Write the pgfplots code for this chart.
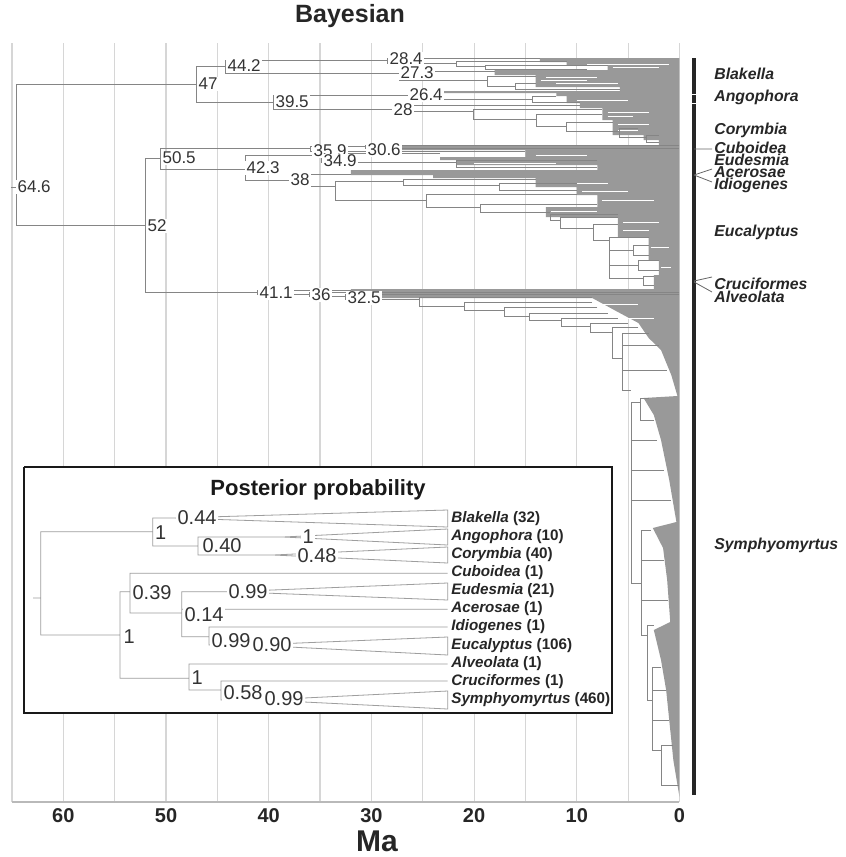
\documentclass[border=0pt]{standalone}
\usepackage{fontspec}
\setmainfont{Liberation Sans}
\usepackage{pgfplots}
\pgfplotsset{compat=1.18}
\definecolor{tree}{gray}{0.52}
\definecolor{dense}{gray}{0.6}
\definecolor{gridc}{gray}{0.84}
\definecolor{lab}{gray}{0.2}
\definecolor{itree}{gray}{0.62}
\tikzset{
 nl/.style={anchor=west, font=\fontsize{8.5}{9}\selectfont, text=lab, fill=white, inner sep=0.6pt},
 il/.style={anchor=west, font=\fontsize{10}{11}\selectfont, text=lab, fill=white, inner sep=0.6pt},
 cl/.style={anchor=west, font=\fontsize{7.9}{9}\selectfont\bfseries\itshape, text=black!85, inner sep=0pt},
 tl/.style={anchor=west, font=\fontsize{7.6}{9}\selectfont\bfseries, text=black!85, inner sep=0pt},
}
\begin{document}
\begin{tikzpicture}
\useasboundingbox (-6pt,-27.65pt) rectangle (417pt,400.85pt);
\begin{axis}[at={(0,0)}, anchor=south west, scale only axis,
 width=333.75pt, height=379.35pt,
 xmin=0, xmax=65, x dir=reverse, ymin=43, ymax=801.7, y dir=reverse,
 axis line style={draw=none}, ytick=\empty,
 xtick={0,10,...,60}, minor xtick={5,15,...,65},
 xmajorgrids, xminorgrids,
 grid style={gridc, line width=0.6pt}, minor grid style={gridc, line width=0.6pt},
 major tick length=0pt, minor tick length=0pt,
 xticklabel pos=lower,
 xticklabel style={font=\fontsize{10}{12}\selectfont\bfseries, text=black!85},
 /pgf/number format/assume math mode=true,
 clip=false, unbounded coords=jump]
% dense tip region
\addplot[draw=none, fill=dense] coordinates {
(0,58) (13.6,58) (13.6,62) (11,62) (11,65) (7,65) (7,70) (18,70) (18,75) (14,75) (14,87) (5.8,87) (5.8,91) (23.3,91) (23.3,93) (12,93) (12,96) (11,96) (11,103) (9.7,103) (9.7,108) (7.5,108) (7.5,120) (6.5,120) (6.5,135) (3.5,135) (3.5,140) (2,140) (2,145) (30.4,145) (30.4,150) (15,150) (15,157) (23.3,157) (23.3,160) (21.7,160) (21.7,165) (8,165) (8,170) (32,170) (32,175) (24,175) (24,178) (14,178) (14,187) (10,187) (10,195) (8,195) (8,207) (13,207) (13,217) (6,217) (6,237) (3,237) (3,260) (2,260) (2,275) (2.5,275) (2.5,289) (32,289) (32,298) (8.5,298) (6,312) (4,323) (3,338) (1.8,350) (0.8,375) (0.2,396) (3.5,398) (2.5,415) (1.8,440) (1.0,480) (0.3,522) (2.6,528) (1.6,548) (1.2,580) (0.9,622) (2.5,630) (1.8,660) (1.3,690) (1.0,720) (0.6,760) (0,797)
};
% white streaks inside the dense region
\addplot[white, line width=0.5pt] coordinates {
(9,64) (1,64) (nan,nan) (6.5,67.5) (2,67.5) (nan,nan) (13,77) (8,77) (nan,nan) (13.5,80) (9,80) (nan,nan) (12,83) (6,83) (nan,nan)
(10,100) (5,100) (nan,nan) (7,112) (3,112) (nan,nan) (7,116) (4.5,116) (nan,nan) (6,124) (3,124) (nan,nan) (6,130) (4,130) (nan,nan)
(14,155) (9,155) (nan,nan) (20,163) (12,163) (nan,nan) (13,183) (7,183) (nan,nan) (9.5,191) (5,191) (nan,nan) (7.5,200) (2.5,200) (nan,nan)
(12.5,211) (8,211) (nan,nan) (5.5,222) (2,222) (nan,nan) (5.5,230) (3,230) (nan,nan) (2.8,247) (1,247) (nan,nan) (1.8,267) (0.8,267) (nan,nan)
(8,304) (4,304) (nan,nan) (5.5,318) (2.5,318)
};
% x axis line
\addplot[gray!55, line width=0.8pt] coordinates {(65,801.7) (0,801.7)};
% tree branches
\addplot[tree, line width=0.45pt] coordinates {
(65.1,187) (64.6,187) (nan,nan)
(47,84) (64.6,84) (64.6,225) (52,225) (nan,nan)
(44.2,66) (47,66) (47,102) (39.5,102) (nan,nan)
(28.4,60) (44.2,60) (44.2,73) (27.3,73) (nan,nan)
(26.4,95) (39.5,95) (39.5,109) (28,109) (nan,nan)
(50.5,158.7) (52,158.7) (52,292.3) (41.1,292.3) (nan,nan)
(35.9,148) (50.5,148) (50.5,169) (42.3,169) (nan,nan)
(34.9,155) (42.3,155) (42.3,180) (38,180) (nan,nan)
(30.6,146) (35.9,146) (35.9,151) (15,151) (nan,nan)
(0,145) (30.6,145) (30.6,148) (0,148) (nan,nan)
(23.3,153) (34.9,153) (34.9,162) (21.7,162) (nan,nan)
(8,160) (21.7,160) (21.7,167) (8,167) (nan,nan)
(32,174) (38,174) (38,186) (33.5,186) (nan,nan)
(26.9,181) (33.5,181) (33.5,200) (24.6,200) (nan,nan)
(14,179) (26.9,179) (26.9,185) (17.5,185) (nan,nan)
(10,183) (17.5,183) (17.5,190) (10,190) (nan,nan)
(10,194) (24.6,194) (24.6,207) (19.4,207) (nan,nan)
(8,204) (19.4,204) (19.4,212) (12.6,212) (nan,nan)
(6,214) (12.6,214) (12.6,220) (11.6,220) (nan,nan)
(6,217) (11.6,217) (11.6,228) (8.4,228) (nan,nan)
(6,224) (8.4,224) (8.4,240) (6.8,240) (nan,nan)
(3,237) (6.8,237) (6.8,278) (3.5,278) (nan,nan)
(6.8,250) (4.5,250) (nan,nan) (6.8,265) (4.0,265) (nan,nan)
(3,245) (4.5,245) (4.5,255) (3,255) (nan,nan)
(2,260) (4.0,260) (4.0,270) (2,270) (nan,nan)
(2.5,276) (3.5,276) (3.5,285) (2.5,285) (nan,nan)
(13.6,58) (28.4,58) (28.4,63) (21.7,63) (nan,nan)
(11,61) (21.7,61) (21.7,66) (18.9,66) (nan,nan)
(7,65) (18.9,65) (18.9,69) (9,69) (nan,nan)
(18,71) (27.3,71) (27.3,80) (18.7,80) (nan,nan)
(14,76) (18.7,76) (18.7,86) (16,86) (nan,nan)
(14,83) (16,83) (16,89) (5.8,89) (nan,nan)
(23.3,92) (26.4,92) (26.4,99) (14.3,99) (nan,nan)
(12,96) (14.3,96) (14.3,102) (9.7,102) (nan,nan)
(9.7,105) (28,105) (28,111) (20.1,111) (nan,nan)
(7.5,109) (20.1,109) (20.1,119) (13.9,119) (nan,nan)
(7.5,114) (13.9,114) (13.9,126) (11,126) (nan,nan)
(6.5,122) (11,122) (11,131) (5.8,131) (nan,nan)
(4,128) (5.8,128) (5.8,137) (3.2,137) (nan,nan)
(2,135) (3.2,135) (3.2,142) (2,142) (nan,nan)
(32,290) (41.1,290) (41.1,294) (36,294) (nan,nan)
(0,292) (36,292) (36,296) (32.5,296) (nan,nan)
(0,294) (32.5,294) (32.5,299) (25.3,299) (nan,nan)
(8.5,297) (25.3,297) (25.3,306) (20.9,306) (nan,nan)
(8.5,302) (20.9,302) (20.9,310) (17,310) (nan,nan)
(8,307) (17,307) (17,316) (14.6,316) (nan,nan)
(7,313) (14.6,313) (14.6,320) (11.5,320) (nan,nan)
(6,318) (11.5,318) (11.5,326) (8.7,326) (nan,nan)
(5,323) (8.7,323) (8.7,332) (6.5,332) (nan,nan)
(4,327) (6.5,327) (6.5,358) (5.6,358) (nan,nan)
(3,333) (5.6,333) (5.6,390) (4.7,390) (nan,nan)
(5.6,345) (2,345) (nan,nan) (5.6,370) (1.2,370) (nan,nan)
(3.8,402) (4.7,402) (4.7,583) (3.7,583) (nan,nan)
(4.7,440) (2.2,440) (nan,nan) (4.7,470) (1.5,470) (nan,nan) (4.7,500) (0.8,500) (nan,nan)
(3,398) (3.8,398) (3.8,420) (2.5,420) (nan,nan)
(2.8,530) (3.7,530) (3.7,635) (3.1,635) (nan,nan)
(3.7,560) (1.5,560) (nan,nan) (3.7,600) (1.1,600) (nan,nan)
(2.5,625) (3.1,625) (3.1,700) (2.6,700) (nan,nan)
(1.8,667) (2.6,667) (2.6,750) (1.8,750) (nan,nan)
(2.6,690) (1.3,690) (nan,nan) (2.6,720) (1.0,720) (nan,nan)
(0.6,745) (1.8,745) (1.8,785) (0,785)
};
\end{axis}
\begin{axis}[at={(0,0)}, anchor=south west, scale only axis,
 width=333.75pt, height=379.35pt,
 xmin=12, xmax=679.5, ymin=43, ymax=801.7, y dir=reverse,
 hide axis, clip=false, unbounded coords=jump]
% clade bar
\addplot[black!85, line width=1.6pt] coordinates {(694,58) (694,795)};
\addplot[white, line width=0.4pt] coordinates {(690,94) (698,94) (nan,nan) (690,103) (698,103)};
\addplot[black!60, line width=0.4pt] coordinates {(694,149) (712,149) (nan,nan) (694,175) (712,169) (nan,nan) (694,175) (712,182) (nan,nan) (694,281) (712,277) (nan,nan) (694,282) (712,292)};
% inset box
\addplot[draw=black!90, line width=1.3pt, fill=white] coordinates {(24,467) (612,467) (612,713) (24,713) (24,467)};
% inset tree
\addplot[itree, line width=0.4pt] coordinates {
(152.7,531.7) (40.7,531.7) (40.7,635) (120,635) (nan,nan)
(33,598) (40.7,598) (nan,nan)
(173,518) (152.7,518) (152.7,546) (198,546) (nan,nan)
(173,518) (447.7,510) (447.7,527) (173,518) (nan,nan)
(283,537) (198,537) (198,555) (273,555) (nan,nan)
(283,537) (447.7,529) (447.7,545) (283,537) (nan,nan)
(273,555) (447.7,547) (447.7,563) (273,555) (nan,nan)
(447.7,573.3) (130,573.3) (130,613) (181.7,613) (nan,nan)
(130,591.7) (120,591.7) (120,678.3) (189,678.3) (nan,nan)
(230,591.7) (181.7,591.7) (181.7,636.7) (209,636.7) (nan,nan)
(181.7,609.3) (447.7,609.3) (nan,nan)
(230,591.7) (447.7,583) (447.7,600) (230,591.7) (nan,nan)
(447.7,627) (209,627) (209,645) (250,645) (nan,nan)
(250,645) (447.7,637) (447.7,655) (250,645) (nan,nan)
(447.7,664) (189,664) (189,690) (221,690) (nan,nan)
(447.7,681) (221,681) (221,700) (263,700) (nan,nan)
(263,700) (447.7,691) (447.7,709) (263,700)
};
% titles
\node[font=\fontsize{12.5}{14}\selectfont\bfseries, text=black!85] at (axis cs:350,16) {Bayesian};
\node[font=\fontsize{15}{17}\selectfont\bfseries, text=black!85] at (axis cs:377,841) {Ma};
\node[font=\fontsize{11}{13}\selectfont\bfseries, text=black!90] at (axis cs:318,490) {Posterior probability};
% node ages
\node[nl] at (axis cs:16,187) {64.6};
\node[nl] at (axis cs:197,84) {47};
\node[nl] at (axis cs:226,66) {44.2};
\node[nl] at (axis cs:274,102) {39.5};
\node[nl] at (axis cs:388,59) {28.4};
\node[nl] at (axis cs:399,73) {27.3};
\node[nl] at (axis cs:408,95) {26.4};
\node[nl] at (axis cs:392,110) {28};
\node[nl] at (axis cs:161,158) {50.5};
\node[nl] at (axis cs:312,151) {35.9};
\node[nl] at (axis cs:322,161) {34.9};
\node[nl] at (axis cs:366,150) {30.6};
\node[nl] at (axis cs:245,168) {42.3};
\node[nl] at (axis cs:289,180) {38};
\node[nl] at (axis cs:146,226) {52};
\node[nl] at (axis cs:258,293) {41.1};
\node[nl] at (axis cs:310,295) {36};
\node[nl] at (axis cs:346,298) {32.5};
% clade labels
\node[cl] at (axis cs:714,74) {Blakella};
\node[cl] at (axis cs:714,97) {Angophora};
\node[cl] at (axis cs:714,130) {Corymbia};
\node[cl] at (axis cs:714,148) {Cuboidea};
\node[cl] at (axis cs:714,160) {Eudesmia};
\node[cl] at (axis cs:714,172) {Acerosae};
\node[cl] at (axis cs:714,185) {Idiogenes};
\node[cl] at (axis cs:714,232) {Eucalyptus};
\node[cl] at (axis cs:714,284) {Cruciformes};
\node[cl] at (axis cs:714,297) {Alveolata};
\node[cl] at (axis cs:714,545) {Symphyomyrtus};
% inset support values
\node[il] at (axis cs:176,518) {0.44};
\node[il] at (axis cs:153.5,533) {1};
\node[il] at (axis cs:301,537) {1};
\node[il] at (axis cs:201,546) {0.40};
\node[il] at (axis cs:296,556) {0.48};
\node[il] at (axis cs:131,593) {0.39};
\node[il] at (axis cs:227,592) {0.99};
\node[il] at (axis cs:183,615) {0.14};
\node[il] at (axis cs:210,641) {0.99};
\node[il] at (axis cs:251,645) {0.90};
\node[il] at (axis cs:122,637) {1};
\node[il] at (axis cs:190,678) {1};
\node[il] at (axis cs:222,693) {0.58};
\node[il] at (axis cs:263,699) {0.99};
% inset tip labels
\node[tl] at (axis cs:451,519) {\textit{Blakella} (32)};
\node[tl] at (axis cs:451,537) {\textit{Angophora} (10)};
\node[tl] at (axis cs:451,555) {\textit{Corymbia} (40)};
\node[tl] at (axis cs:451,573) {\textit{Cuboidea} (1)};
\node[tl] at (axis cs:451,591) {\textit{Eudesmia} (21)};
\node[tl] at (axis cs:451,609) {\textit{Acerosae} (1)};
\node[tl] at (axis cs:451,627) {\textit{Idiogenes} (1)};
\node[tl] at (axis cs:451,646) {\textit{Eucalyptus} (106)};
\node[tl] at (axis cs:451,664) {\textit{Alveolata} (1)};
\node[tl] at (axis cs:451,682) {\textit{Cruciformes} (1)};
\node[tl] at (axis cs:451,700) {\textit{Symphyomyrtus} (460)};
\end{axis}
\end{tikzpicture}
\end{document}
